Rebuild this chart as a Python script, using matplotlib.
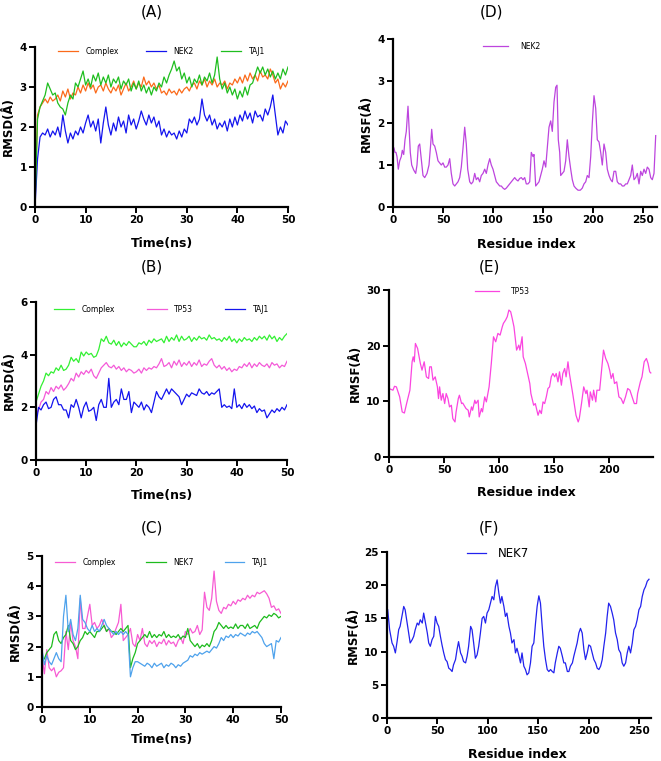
import numpy as np
import matplotlib
matplotlib.use("Agg")
import matplotlib.pyplot as plt

# ---------------- data ----------------
time_ns = np.arange(0, 50.5, 0.5)

a_complex = [0.0, 2.3, 2.5, 2.6, 2.7, 2.6, 2.75, 2.65, 2.7, 2.8, 2.65, 2.9, 2.75, 2.95, 2.7, 2.85, 2.8, 3.0, 2.85, 3.05,
             2.9, 3.1, 2.95, 3.05, 2.85, 3.0, 3.05, 2.9, 3.1, 2.95, 2.85, 3.0, 2.9, 3.05, 2.8, 2.95, 3.1, 2.9, 3.0, 3.15,
             2.95, 3.1, 3.0, 3.25, 3.05, 3.15, 3.0, 3.1, 2.95, 3.05, 2.85, 2.9, 2.8, 2.95, 2.85, 2.9, 2.8, 2.95, 2.85, 2.95,
             3.0, 2.9, 3.05, 3.1, 2.95, 3.15, 3.05, 3.2, 3.0, 3.15, 3.05, 3.2, 3.0, 3.1, 3.05, 3.15, 2.95, 3.1, 3.05, 3.2,
             3.1, 3.25, 3.1, 3.3, 3.15, 3.35, 3.2, 3.3, 3.15, 3.4, 3.25, 3.3, 3.2, 3.45, 3.3, 3.1, 3.2, 2.95, 3.1, 3.0, 3.15]
a_nek2 = [0.0, 1.2, 1.75, 1.85, 1.8, 1.95, 1.75, 1.9, 1.8, 2.0, 1.75, 2.3, 1.9, 1.6, 1.85, 1.7, 1.9, 1.8, 2.0, 1.85,
          2.1, 2.3, 2.0, 2.15, 1.9, 2.2, 1.6, 2.1, 2.5, 2.05, 1.8, 2.1, 1.9, 2.25, 2.0, 2.15, 1.85, 2.3, 2.05, 2.2,
          1.95, 2.15, 2.4, 2.2, 2.05, 2.3, 2.1, 2.25, 2.0, 2.15, 1.8, 1.95, 1.75, 1.9, 1.8, 1.85, 1.7, 1.9, 1.75, 1.95,
          1.85, 2.2, 2.1, 2.25, 2.05, 2.2, 2.7, 2.3, 2.15, 2.3, 2.05, 2.2, 1.95, 2.1, 2.0, 2.15, 1.9, 2.2, 2.0, 2.25,
          2.05, 2.3, 2.15, 2.4, 2.2, 2.35, 2.1, 2.4, 2.25, 2.3, 2.15, 2.45, 2.3, 2.5, 2.8, 2.3, 1.8, 2.0, 1.85, 2.15, 2.05]
a_taj1 = [0.0, 2.2, 2.5, 2.65, 2.8, 3.1, 2.95, 2.8, 2.85, 2.6, 2.5, 2.45, 2.3, 2.6, 2.8, 2.7, 3.1, 3.0, 3.2, 3.4,
          3.05, 3.2, 3.0, 3.3, 3.15, 3.35, 3.05, 3.25, 3.1, 3.3, 3.0, 3.2, 3.1, 3.25, 2.95, 3.15, 3.05, 3.2, 2.9, 3.1,
          2.95, 3.15, 2.9, 3.05, 2.85, 3.0, 2.8, 3.0, 2.9, 3.1, 3.0, 3.25, 3.1, 3.3, 3.45, 3.65, 3.4, 3.5, 3.2, 3.35,
          3.1, 3.25, 3.0, 3.2, 3.1, 3.3, 3.05, 3.25, 3.15, 3.35, 3.1, 3.3, 3.75, 3.2, 2.95, 3.1, 2.85, 3.0, 2.8, 2.95,
          2.7, 2.9, 2.75, 3.0, 2.8, 3.05, 3.1, 3.3, 3.5, 3.35, 3.5, 3.3, 3.45, 3.25, 3.4, 3.2, 3.35, 3.2, 3.45, 3.3, 3.5]

b_complex = [2.2, 2.5, 2.8, 3.0, 3.3, 3.2, 3.35, 3.3, 3.5, 3.4, 3.6, 3.4, 3.45, 3.6, 3.9, 3.75, 3.85, 3.7, 4.1, 3.95,
             4.1, 4.0, 4.05, 3.9, 3.95, 4.2, 4.6, 4.5, 4.7, 4.45, 4.4, 4.55, 4.35, 4.5, 4.3, 4.45, 4.35, 4.5, 4.4, 4.3,
             4.3, 4.45, 4.4, 4.5, 4.35, 4.55, 4.45, 4.6, 4.5, 4.55, 4.6, 4.45, 4.7, 4.5, 4.65, 4.55, 4.75, 4.5, 4.7, 4.55,
             4.6, 4.7, 4.5, 4.65, 4.55, 4.7, 4.6, 4.65, 4.55, 4.75, 4.6, 4.65, 4.55, 4.6, 4.5, 4.65, 4.55, 4.7, 4.5, 4.6,
             4.45, 4.6, 4.5, 4.65, 4.55, 4.6, 4.5, 4.65, 4.55, 4.7, 4.6, 4.7, 4.55, 4.75, 4.6, 4.7, 4.5, 4.65, 4.55, 4.7, 4.8]
b_tp53 = [1.7, 1.9, 2.2, 2.3, 2.6, 2.5, 2.75, 2.6, 2.8, 2.7, 2.85, 2.65, 2.75, 2.9, 3.1, 3.0, 3.3, 3.15, 3.35, 3.25,
          3.4, 3.3, 3.45, 3.2, 3.1, 3.3, 3.5, 3.6, 3.7, 3.55, 3.5, 3.6, 3.45, 3.55, 3.4, 3.5, 3.35, 3.45, 3.4, 3.3,
          3.35, 3.45, 3.3, 3.5, 3.4, 3.5, 3.45, 3.55, 3.5, 3.65, 3.85, 3.55, 3.6, 3.7, 3.5, 3.75, 3.6, 3.8, 3.55, 3.7,
          3.6, 3.75, 3.55, 3.7, 3.6, 3.8, 3.55, 3.65, 3.6, 3.75, 3.85, 3.6, 3.5, 3.6, 3.45, 3.55, 3.4, 3.5, 3.35, 3.45,
          3.4, 3.55, 3.5, 3.65, 3.55, 3.7, 3.5, 3.65, 3.55, 3.7, 3.6, 3.55, 3.65, 3.5, 3.7, 3.6, 3.65, 3.5, 3.6, 3.55, 3.75]
b_taj1 = [1.3, 2.0, 1.9, 2.1, 2.2, 1.95, 2.0, 2.3, 2.4, 2.1, 2.1, 1.9, 1.9, 1.6, 2.1, 2.0, 2.3, 2.0, 1.6, 2.0,
          2.2, 1.85, 1.9, 2.0, 1.5, 2.1, 2.3, 2.0, 2.0, 3.1, 2.0, 2.2, 2.3, 2.1, 2.7, 2.3, 2.3, 2.6, 1.8, 2.2,
          2.1, 2.0, 2.2, 1.9, 2.1, 2.0, 1.8, 2.2, 2.6, 2.4, 2.3, 2.5, 2.7, 2.5, 2.7, 2.6, 2.5, 2.4, 2.1, 2.3,
          2.5, 2.4, 2.55, 2.5, 2.45, 2.7, 2.55, 2.5, 2.6, 2.45, 2.55, 2.5, 2.6, 2.7, 2.0, 2.1, 2.0, 2.05, 1.95, 2.7,
          2.0, 2.1, 1.95, 2.15, 2.0, 2.1, 1.95, 2.05, 1.8, 1.95, 1.85, 1.9, 1.6, 1.75, 1.9, 1.8, 1.95, 1.85, 2.0, 1.9, 2.1]

c_complex = [1.7, 1.1, 1.9, 1.3, 1.2, 1.3, 1.0, 1.15, 1.2, 1.3, 2.5, 1.9, 2.8, 2.2, 2.0, 1.6, 3.6, 2.6, 2.6, 3.0,
             3.4, 2.7, 2.8, 2.6, 2.7, 2.9, 2.7, 2.5, 2.6, 2.3, 2.4, 2.6, 2.8, 3.4, 2.2, 2.3, 2.4, 2.6, 2.1, 2.0,
             2.4, 2.2, 2.6, 2.1, 2.0, 2.2, 2.1, 2.2, 2.0, 2.15, 2.1, 2.25, 2.05, 2.2, 2.1, 2.15, 2.0, 2.2, 2.3, 2.1,
             2.5, 2.4, 2.6, 2.45, 2.5, 2.7, 2.4, 2.55, 3.8, 3.3, 3.2, 3.6, 4.5, 3.5, 3.2, 3.1, 3.3, 3.25, 3.4, 3.35,
             3.5, 3.4, 3.55, 3.5, 3.6, 3.55, 3.7, 3.6, 3.7, 3.65, 3.8, 3.75, 3.8, 3.85, 3.75, 3.6, 3.3, 3.35, 3.2, 3.25, 3.1]
c_nek7 = [1.5, 1.6, 1.8, 1.9, 2.0, 2.4, 2.5, 2.2, 2.1, 2.3, 2.4, 2.7, 2.2, 2.1, 1.9, 2.0, 2.2, 2.3, 2.5, 2.4,
          2.5, 2.4, 2.3, 2.5, 2.5, 2.6, 2.7, 2.5, 2.6, 2.5, 2.5, 2.4, 2.5, 2.6, 2.5, 2.6, 2.7, 1.3, 1.6, 1.8,
          2.1, 2.2, 2.3, 2.4, 2.3, 2.5, 2.3, 2.4, 2.3, 2.4, 2.35, 2.5, 2.3, 2.4, 2.3, 2.35, 2.3, 2.4, 2.25, 2.35,
          2.3, 2.6, 2.2, 2.1, 2.0, 2.1, 1.95, 2.05, 2.0, 2.1, 2.0, 2.2, 2.5, 2.6, 2.8, 2.7, 2.6, 2.7, 2.6, 2.65,
          2.6, 2.75, 2.6, 2.7, 2.7, 2.6, 2.75, 2.6, 2.65, 2.7, 2.6, 2.8, 2.9, 3.0, 2.95, 3.05, 3.0, 3.1, 3.05, 2.95, 3.0]
c_taj1 = [1.9, 1.4, 1.7, 1.5, 1.4, 1.6, 1.8, 1.6, 1.5, 3.0, 3.7, 2.5, 2.9, 2.4, 2.2, 2.6, 3.7, 2.9, 2.8, 2.6,
          2.5, 2.7, 2.5, 2.6, 2.5, 2.7, 2.9, 2.7, 2.6, 2.5, 2.4, 2.5, 2.4, 2.5, 2.4, 2.5, 2.4, 1.0, 1.3, 1.5,
          1.5, 1.45, 1.4, 1.35, 1.45, 1.4, 1.3, 1.45, 1.35, 1.4, 1.45, 1.3, 1.4, 1.35, 1.45, 1.4, 1.3, 1.4, 1.35, 1.45,
          1.5, 1.55, 1.7, 1.65, 1.75, 1.7, 1.8, 1.75, 1.8, 1.85, 1.8, 1.9, 2.0, 1.95, 2.1, 2.3, 2.2, 2.35, 2.3, 2.4,
          2.3, 2.4, 2.35, 2.45, 2.4, 2.35, 2.45, 2.4, 2.5, 2.45, 2.5, 2.4, 2.3, 2.1, 2.0, 2.05, 2.1, 1.6, 2.2, 2.15, 2.3]

d_res = [0, 1, 2, 3, 4, 5.3, 6.7, 8.3, 9.3, 10.7, 12, 13.3, 15, 16, 17.3, 18.7, 20.7, 22.7, 24, 25.3, 26.7, 28, 30,
         31.7, 34, 36, 37.7, 38.7, 40, 41.7, 43.3, 45, 46.7, 48.3, 50, 51.7, 53.3, 55, 56.7, 58.3, 60, 61.7, 63.3, 65,
         66.7, 68.3, 70, 71.7, 73.3, 74.7, 76.7, 78.3, 80, 81.7, 83.3, 85, 86.7, 88.3, 90, 91.7, 93.3, 95, 96.7, 98.3,
         100, 101.7, 103.3, 105, 106.7, 108.3, 110, 111.7, 113.3, 115, 116.7, 118.3, 120, 121.7, 123.3, 125, 126.7,
         128.3, 130, 131.7, 133.3, 135, 136.7, 138.3, 140, 141, 142.7, 144.3, 146, 147.7, 149.3, 151, 152.7, 154.3,
         156, 157.7, 159.3, 161, 162.7, 164, 165.3, 166.7, 167.7, 169.3, 171, 172.7, 174.3, 176, 177.7, 179.3, 181,
         182.7, 185, 187.3, 189.3, 191, 192.7, 194.3, 196, 197.7, 199.3, 201, 202.7, 204.3, 206, 207.7, 209.3, 211,
         212.7, 214.3, 216, 217.7, 219.3, 221, 222.7, 224.3, 226, 227.7, 229.3, 231, 232.7, 234.3, 236, 237.7, 239.3,
         241, 242.7, 244.3, 246, 247.7, 249.3, 251, 252.7, 254.3, 256, 257.7, 259.3, 261, 262.7]
d_nek2 = [1.45, 1.4, 1.3, 1.3, 1.2, 0.9, 1.1, 1.2, 1.35, 1.25, 1.6, 1.8, 2.4, 1.9, 1.3, 1.0, 0.88, 0.8, 1.0, 1.45,
          1.5, 1.2, 0.75, 0.7, 0.8, 1.0, 1.5, 1.85, 1.5, 1.45, 1.3, 1.1, 1.05, 1.0, 1.05, 0.95, 0.95, 1.0, 1.15, 0.8,
          0.55, 0.5, 0.55, 0.6, 0.7, 0.95, 1.4, 1.9, 1.5, 0.9, 0.6, 0.55, 0.6, 0.8, 0.65, 0.7, 0.6, 0.75, 0.8, 0.9,
          0.8, 1.0, 1.15, 1.0, 0.9, 0.75, 0.6, 0.55, 0.5, 0.5, 0.45, 0.42, 0.45, 0.5, 0.55, 0.6, 0.65, 0.7, 0.65,
          0.62, 0.68, 0.7, 0.65, 0.7, 0.55, 0.55, 0.6, 1.3, 1.2, 1.25, 0.5, 0.55, 0.6, 0.75, 0.9, 1.1, 0.95, 1.4,
          1.9, 2.05, 1.8, 2.5, 2.85, 2.9, 1.6, 1.3, 0.75, 0.8, 0.85, 1.1, 1.6, 1.2, 0.9, 0.65, 0.5, 0.45, 0.4, 0.4,
          0.45, 0.55, 0.6, 0.75, 0.7, 1.2, 2.0, 2.65, 2.35, 1.6, 1.55, 1.3, 1.0, 1.5, 1.3, 0.9, 0.75, 0.65, 0.6,
          0.85, 0.85, 0.6, 0.55, 0.55, 0.5, 0.5, 0.55, 0.55, 0.65, 0.75, 1.0, 0.65, 0.7, 0.8, 0.55, 0.85, 0.75, 0.9,
          0.8, 0.95, 0.9, 0.7, 0.65, 0.8, 1.7]

e_res = [0, 3.6, 5, 6.7, 9.7, 12, 14, 16, 19, 21, 22, 23, 24, 26, 28.5, 30, 32, 34, 36, 37, 38.5, 40, 42, 44, 45,
         46, 47.5, 49, 50.6, 52, 53.6, 55, 56.7, 58, 60, 61, 63, 64, 66, 67, 70, 72, 73, 75, 76, 78, 79, 81, 82, 84,
         85, 87, 88.5, 91, 93, 95, 97, 99, 101, 103, 104, 106, 107.5, 109, 110.6, 112, 113.6, 115, 116, 118, 119,
         121, 122, 124, 126, 128, 129, 131.5, 133, 135.5, 137, 138.5, 140, 141.5, 143, 144.5, 146, 147.5, 149,
         150.6, 152, 153.6, 155, 156.7, 158, 159.7, 161, 162.7, 164, 167, 170, 172, 173, 175, 177, 179, 180, 182,
         183, 185, 186, 188, 189, 191.5, 193, 195, 197, 199, 200.6, 202, 203.6, 205, 207, 209, 211, 213, 215, 217,
         219, 221, 223, 225, 226, 228.5, 230, 232, 234, 235.5, 237, 238]
e_tp53 = [12.3, 12.0, 12.7, 12.6, 10.8, 8.1, 7.9, 9.6, 12.0, 17.1, 18.0, 17.1, 20.4, 19.5, 16.8, 15.6, 17.1,
          14.4, 14.1, 16.2, 16.2, 13.8, 14.4, 12.6, 10.5, 12.6, 10.2, 11.4, 9.6, 11.4, 10.5, 9.0, 9.3, 6.9, 6.3,
          8.1, 10.5, 11.1, 9.6, 9.7, 8.7, 8.4, 7.2, 9.0, 8.4, 10.2, 9.6, 10.2, 7.2, 8.7, 8.1, 10.8, 9.9, 12.6, 16.8,
          21.6, 20.7, 22.2, 21.9, 23.4, 24.0, 24.6, 25.2, 26.4, 26.1, 24.9, 23.4, 21.0, 19.2, 20.1, 19.2, 21.6,
          18.0, 16.8, 15.0, 13.2, 11.4, 9.3, 9.6, 7.5, 8.4, 7.8, 9.9, 9.6, 10.8, 12.3, 12.6, 14.4, 15.0, 14.4,
          15.0, 13.5, 15.3, 12.9, 15.0, 15.9, 14.4, 17.1, 15.0, 11.4, 7.5, 6.3, 6.9, 9.6, 12.6, 11.4, 12.0, 9.0,
          11.7, 10.2, 12.0, 9.9, 12.0, 12.0, 15.0, 19.2, 17.7, 16.8, 15.6, 14.1, 15.0, 13.2, 13.5, 10.8, 10.5,
          9.6, 10.8, 12.3, 12.0, 10.8, 9.6, 9.6, 11.4, 13.5, 14.4, 17.1, 17.7, 16.8, 15.3, 15.1]

f_res = [0.7, 2.6, 5, 6.6, 8.3, 10, 11.6, 13, 15, 16.6, 18, 20, 21.5, 23, 25, 26.5, 28, 30, 31.5, 33, 35, 36.4, 38,
         40, 41.4, 43, 44.7, 46.4, 48, 49.7, 51.3, 53, 54.6, 56.3, 58, 59.6, 61.3, 63, 64.6, 66, 68, 69.5, 71, 73,
         74.5, 76, 78, 79.5, 81, 83, 84.4, 86, 87.7, 89.4, 91, 92.7, 94.4, 96, 97.7, 99.3, 101, 102.6, 104.3, 106,
         107.6, 109.3, 111, 112.6, 114, 116, 117.5, 119, 121, 122.5, 124, 126, 127.5, 129, 131, 132.5, 134, 135.8,
         137.4, 139, 140.7, 142.4, 144, 145.7, 147.4, 149, 150.7, 152.3, 154, 155.6, 157.3, 159, 160.6, 162.3, 164,
         165.6, 167, 169, 170.5, 172, 174, 175.5, 177, 179, 180.5, 182, 184, 185.4, 187, 188.7, 190.4, 192, 193.7,
         195.4, 197, 198.7, 200.3, 202, 203.6, 205.3, 207, 208.6, 210.3, 212, 213.6, 215.2, 217, 218.5, 220, 221.8,
         223.5, 225, 226.8, 228.5, 230, 231.8, 233.4, 235, 236.8, 238.4, 240, 241.7, 243.4, 245, 246.7, 248.3, 250,
         251.7, 253.3, 255, 256.6, 258.3, 260]
f_nek7 = [16.3, 13.3, 11.3, 10.8, 9.8, 11.5, 13.3, 13.8, 15.5, 16.8, 16.3, 14.3, 12.8, 11.3, 11.8, 12.3, 13.3,
          14.3, 14.0, 14.8, 14.3, 15.8, 14.5, 12.8, 11.3, 10.8, 11.8, 12.3, 15.3, 14.3, 13.8, 12.3, 11.0, 9.8, 8.8,
          8.5, 7.5, 7.3, 7.0, 8.0, 8.8, 10.3, 11.5, 9.8, 9.3, 8.5, 8.3, 9.3, 10.8, 13.8, 13.3, 11.3, 9.0, 9.5, 10.8,
          12.8, 15.0, 15.3, 14.3, 15.8, 16.3, 17.3, 18.3, 17.8, 19.8, 20.8, 18.8, 17.3, 18.3, 16.8, 15.3, 15.8,
          13.8, 12.8, 11.3, 11.8, 9.8, 10.5, 9.3, 8.3, 9.8, 7.8, 7.3, 6.5, 6.8, 8.3, 10.8, 11.3, 14.3, 16.8, 18.4,
          17.3, 13.8, 10.8, 8.8, 7.3, 7.0, 7.3, 7.0, 6.8, 8.3, 9.8, 10.8, 10.5, 9.3, 8.3, 8.3, 7.0, 7.0, 7.8, 8.3,
          9.3, 10.3, 11.3, 12.8, 13.5, 12.8, 10.3, 8.8, 9.8, 11.0, 10.8, 9.8, 8.8, 8.3, 7.5, 7.3, 7.8, 8.8, 10.8,
          12.8, 15.3, 17.3, 16.8, 15.8, 14.8, 12.8, 11.8, 10.3, 9.8, 8.3, 7.8, 8.3, 9.8, 10.8, 9.8, 11.3, 13.3,
          13.8, 14.8, 16.3, 16.8, 18.3, 19.3, 19.8, 20.6, 20.9]

# ---------------- figure ----------------
W, H = 661, 761
fig = plt.figure(figsize=(W / 100, H / 100), dpi=100)
plt.rcParams['font.family'] = ['DejaVu Sans']


def px_axes(left, top, right, bottom):
    return fig.add_axes([left / W, 1 - bottom / H, (right - left) / W, (bottom - top) / H])


def style(ax, xlim, ylim, xticks, yticks, ylabel):
    ax.set_xlim(*xlim)
    ax.set_ylim(*ylim)
    ax.set_xticks(xticks)
    ax.set_yticks(yticks)
    for s in ['top', 'right']:
        ax.spines[s].set_visible(False)
    for s in ['left', 'bottom']:
        ax.spines[s].set_linewidth(1.6)
    ax.tick_params(length=4, width=1.4, labelsize=7.5, pad=2)
    for lab in ax.get_xticklabels() + ax.get_yticklabels():
        lab.set_fontweight('bold')
    ax.set_ylabel(ylabel, fontsize=8.5, fontweight='bold', labelpad=3)


def legend(ax, fs, y, colspace=3.6, hl=2.6):
    ax.legend(loc='center', bbox_to_anchor=(0.5, y), ncol=3, frameon=False, fontsize=fs,
              handlelength=hl, handletextpad=1.0, columnspacing=colspace, borderaxespad=0, borderpad=0)


lw = 0.9
# (A)
axA = px_axes(35, 47, 288, 207)
axA.plot(time_ns, a_complex, color='#FB6A1A', lw=lw, label='Complex')
axA.plot(time_ns, a_nek2, color='#1414EE', lw=lw, label='NEK2')
axA.plot(time_ns, a_taj1, color='#1FBE1F', lw=lw, label='TAJ1')
style(axA, (0, 50), (0, 4), [0, 10, 20, 30, 40, 50], [0, 1, 2, 3, 4], 'RMSD(Å)')
legend(axA, 5.5, 0.975)

# (B)
axB = px_axes(36, 302, 287, 460)
axB.plot(time_ns, b_complex, color='#33F033', lw=lw, label='Complex')
axB.plot(time_ns, b_tp53, color='#F45AD8', lw=lw, label='TP53')
axB.plot(time_ns, b_taj1, color='#1414EE', lw=lw, label='TAJ1')
style(axB, (0, 50), (0, 6), [0, 10, 20, 30, 40, 50], [0, 2, 4, 6], 'RMSD(Å)')
legend(axB, 5.5, 0.955, colspace=4.2)

# (C)
axC = px_axes(42, 556, 281, 707)
axC.plot(time_ns, c_complex, color='#F75BD3', lw=lw, label='Complex')
axC.plot(time_ns, c_nek7, color='#1DBB1D', lw=lw, label='NEK7')
axC.plot(time_ns, c_taj1, color='#4EA2EC', lw=lw, label='TAJ1')
style(axC, (0, 50), (0, 5), [0, 10, 20, 30, 40, 50], [0, 1, 2, 3, 4, 5], 'RMSD(Å)')
legend(axC, 5.5, 0.96, colspace=4.0)

# (D)
axD = px_axes(393, 39, 657, 207)
axD.plot(d_res, d_nek2, color='#BD45DE', lw=lw, label='NEK2')
style(axD, (0, 264), (0, 4), [0, 50, 100, 150, 200, 250], [0, 1, 2, 3, 4], 'RMSF(Å)')
axD.legend(loc='center', bbox_to_anchor=(0.45, 0.955), frameon=False, fontsize=5.5,
           handlelength=3.2, handletextpad=1.6, borderaxespad=0, borderpad=0)

# (E)
axE = px_axes(389, 290, 653, 457)
axE.plot(e_res, e_tp53, color='#FB45E0', lw=lw, label='TP53')
style(axE, (0, 240), (0, 30), [0, 50, 100, 150, 200], [0, 10, 20, 30], 'RMSF(Å)')
axE.legend(loc='center', bbox_to_anchor=(0.43, 0.99), frameon=False, fontsize=5.5,
           handlelength=3.2, handletextpad=1.6, borderaxespad=0, borderpad=0)

# (F)
axF = px_axes(387, 552, 651, 718)
axF.plot(f_res, f_nek7, color='#2222EE', lw=lw, label='NEK7')
style(axF, (0, 262), (0, 25), [0, 50, 100, 150, 200, 250], [0, 5, 10, 15, 20, 25], 'RMSF(Å)')
axF.legend(loc='center', bbox_to_anchor=(0.42, 0.99), frameon=False, fontsize=8.5,
           handlelength=1.6, handletextpad=1.0, borderaxespad=0, borderpad=0)

# panel titles
for txt, x, y in [('(A)', 152, 12), ('(D)', 492, 12), ('(B)', 152, 267),
                  ('(E)', 489, 267), ('(C)', 152, 528), ('(F)', 489, 528)]:
    fig.text(x / W, 1 - y / H, txt, ha='center', va='center', fontsize=11)

# x labels
for txt, x, y in [('Time(ns)', 162, 244), ('Residue index', 526, 244), ('Time(ns)', 162, 495),
                  ('Residue index', 526, 493), ('Time(ns)', 162, 739), ('Residue index', 517, 755)]:
    fig.text(x / W, 1 - y / H, txt, ha='center', va='center', fontsize=9, fontweight='bold')

fig.savefig('out.png', dpi=100, facecolor='white')
